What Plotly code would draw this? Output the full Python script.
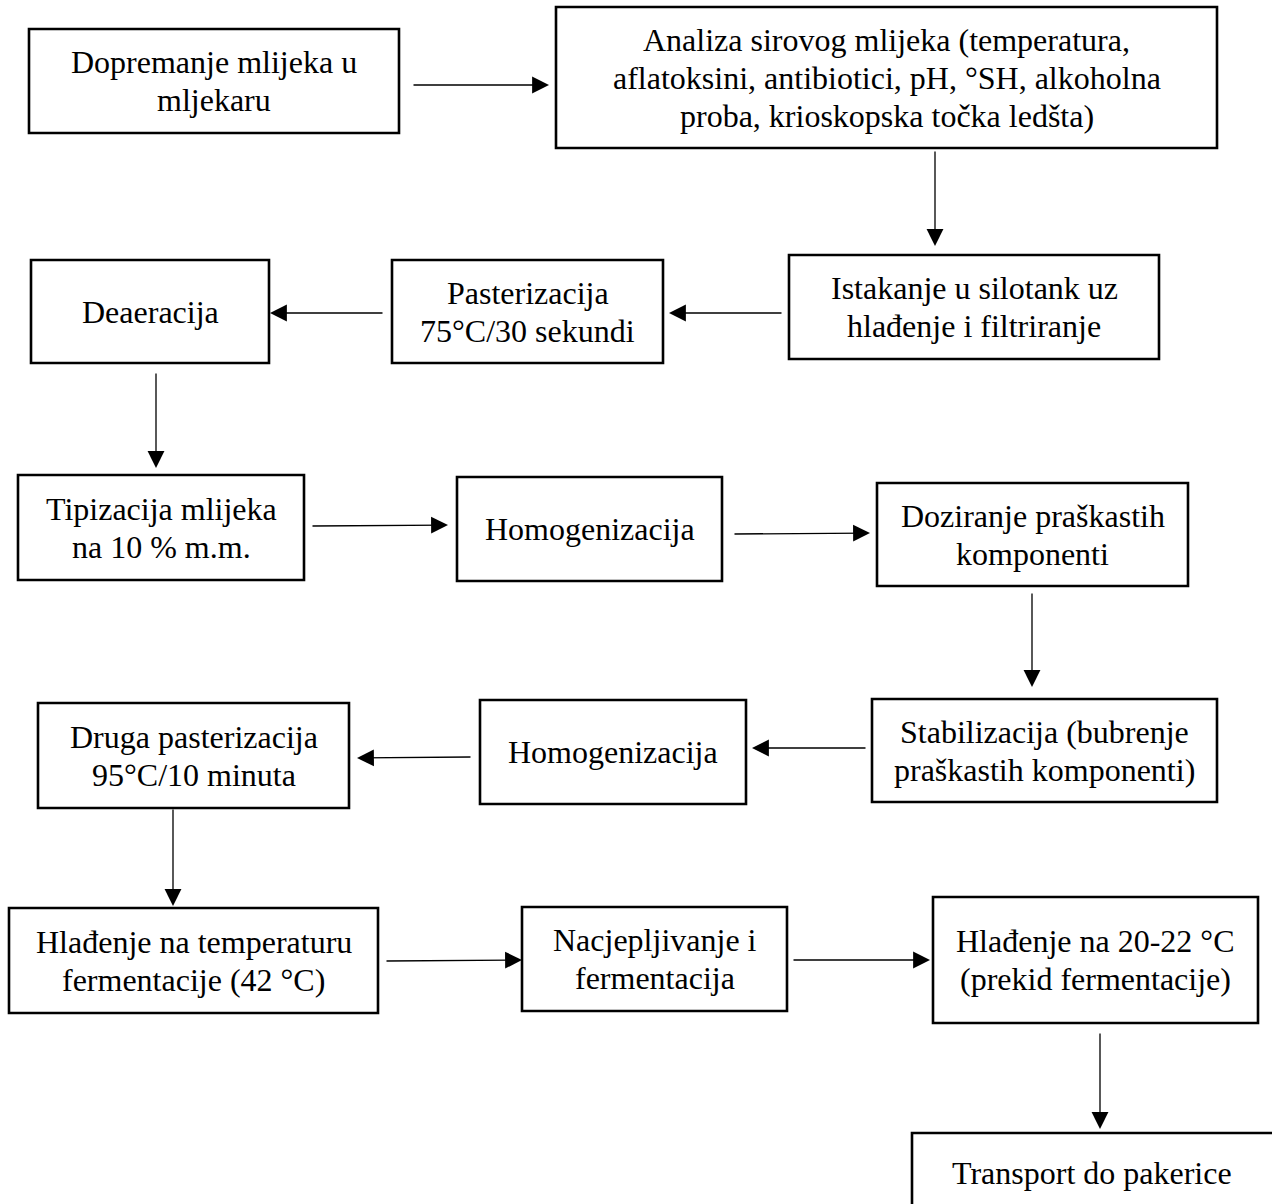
import plotly.graph_objects as go

# ---- content (step texts, one list of lines per step) ----
step_lines = [
    ["Dopremanje mlijeka u", "mljekaru"],
    ["Analiza sirovog mlijeka (temperatura,", "aflatoksini, antibiotici, pH, °SH, alkoholna", "proba, krioskopska točka ledšta)"],
    ["Istakanje u silotank uz", "hlađenje i filtriranje"],
    ["Pasterizacija", "75°C/30 sekundi"],
    ["Deaeracija"],
    ["Tipizacija mlijeka", "na 10 % m.m."],
    ["Homogenizacija"],
    ["Doziranje praškastih", "komponenti"],
    ["Stabilizacija (bubrenje", "praškastih komponenti)"],
    ["Homogenizacija"],
    ["Druga pasterizacija", "95°C/10 minuta"],
    ["Hlađenje na temperaturu", "fermentacije (42 °C)"],
    ["Nacjepljivanje i", "fermentacija"],
    ["Hlađenje na 20-22 °C", "(prekid fermentacije)"],
    ["Transport do pakerice"],
]

# ---- layout geometry (page pixels): box x0, y0, x1, y1 ----
box_geom = [
    (29, 29, 399, 133),
    (556, 7, 1217, 148),
    (789, 255, 1159, 359),
    (392, 260, 663, 363),
    (31, 260, 269, 363),
    (18, 475, 304, 580),
    (457, 477, 722, 581),
    (877, 483, 1188, 586),
    (872, 699, 1217, 802),
    (480, 700, 746, 804),
    (38, 703, 349, 808),
    (9, 908, 378, 1013),
    (522, 907, 787, 1011),
    (933, 897, 1258, 1023),
    (912, 1133, 1276, 1212),
]

# arrows: (tail_x, tail_y, tip_x, tip_y)
arrow_geom = [
    (412, 85, 549, 85),
    (935, 150, 935, 246),
    (783, 313, 669, 313),
    (384, 313, 270, 313),
    (156, 372, 156, 468),
    (311, 526, 448, 525),
    (733, 534, 870, 533),
    (1032, 592, 1032, 687),
    (867, 748, 752, 748),
    (472, 757, 357, 758),
    (173, 808, 173, 906),
    (385, 961, 522, 960),
    (792, 960, 930, 960),
    (1100, 1032, 1100, 1129),
]

W, H = 1272, 1204
FONT = "Liberation Serif, Times New Roman, serif"
FONT_SIZE = 32
LINE_STEP = 38

fig = go.Figure()
fig.add_trace(go.Scatter(x=[0, W], y=[0, H], mode="markers",
                         marker=dict(opacity=0), hoverinfo="skip", showlegend=False))

shapes = []
annotations = []
for lines, (x0, y0, x1, y1) in zip(step_lines, box_geom):
    shapes.append(dict(type="rect", xref="x", yref="y", x0=x0, y0=y0, x1=x1, y1=y1,
                       line=dict(color="black", width=2.6), fillcolor="rgba(0,0,0,0)"))
    cx = (x0 + min(x1, W)) / 2
    cy = (y0 + y1) / 2
    n = len(lines)
    for i, t in enumerate(lines):
        annotations.append(dict(x=cx, y=cy + (i - (n - 1) / 2) * LINE_STEP, xref="x", yref="y",
                                text=t, showarrow=False, xanchor="center", yanchor="middle",
                                font=dict(family=FONT, size=FONT_SIZE, color="black")))

for (tx, ty, hx, hy) in arrow_geom:
    annotations.append(dict(x=hx, y=hy, ax=tx, ay=ty, xref="x", yref="y", axref="x", ayref="y",
                            text="", showarrow=True, arrowhead=2, arrowsize=2.6, arrowwidth=1.3,
                            arrowcolor="black", standoff=0, startstandoff=0))

fig.update_layout(
    width=W, height=H,
    margin=dict(l=0, r=0, t=0, b=0),
    paper_bgcolor="white", plot_bgcolor="white",
    xaxis=dict(range=[0, W], visible=False, fixedrange=True),
    yaxis=dict(range=[H, 0], visible=False, fixedrange=True),
    shapes=shapes, annotations=annotations,
    showlegend=False,
)

fig.write_html(
    "out.html",
    config={"displayModeBar": False},
    post_script="document.body.style.margin='0';document.body.style.overflow='hidden';",
)
